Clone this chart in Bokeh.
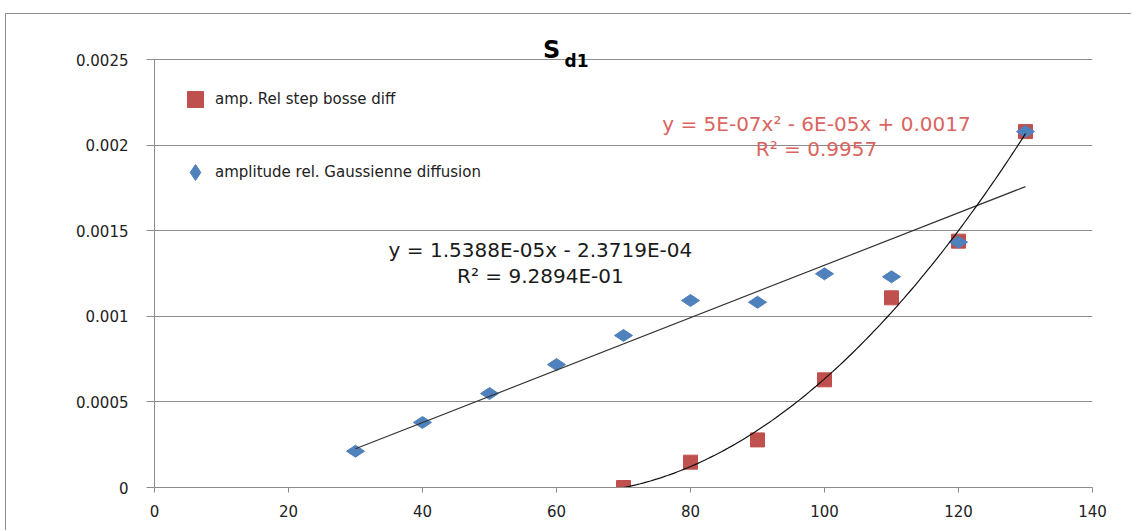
import numpy as np
from bokeh.plotting import figure
from bokeh.models import Label, Legend, LegendItem, FixedTicker
from bokeh.embed import file_html
from bokeh.resources import INLINE

# ---- data ----
x_blue = [30, 40, 50, 60, 70, 80, 90, 100, 110, 120, 130]
y_blue = [0.000212, 0.000380, 0.000549, 0.000718, 0.000888, 0.001092,
          0.001082, 0.001248, 0.001231, 0.001433, 0.002079]
x_red = [70, 80, 90, 100, 110, 120, 130]
y_red = [0.0, 0.000148, 0.000278, 0.000629, 0.001108, 0.001439, 0.002079]

name_red = "amp. Rel step bosse diff"
name_blue = "amplitude rel. Gaussienne diffusion"

x_ticks = [0, 20, 40, 60, 80, 100, 120, 140]
y_ticks = [0, 0.0005, 0.001, 0.0015, 0.002, 0.0025]
y_tick_labels = ["0", "0.0005", "0.001", "0.0015", "0.002", "0.0025"]

eq_red = ["y = 5E-07x\u00b2 - 6E-05x + 0.0017", "R\u00b2 = 0.9957"]
eq_blue = ["y = 1.5388E-05x - 2.3719E-04", "R\u00b2 = 9.2894E-01"]

RED = "#C0504D"
BLUE = "#4F81BD"
GRID = "#8c8c8c"
TXT = "#222222"
FONT = "DejaVu Sans"

# y range extends above the last tick to leave room for the title
p = figure(width=1126, height=517, x_range=(0, 140),
           y_range=(0, 0.0025 + 29 * 0.0025 / 428),
           output_backend="svg", toolbar_location=None, title=None,
           min_border_left=148, min_border_right=40, min_border_top=16,
           min_border_bottom=44)
p.margin = (13, 0, 0, 5)
p.styles = {"border-top": "1px solid #8c8c8c",
            "border-left": "1px solid #8c8c8c"}
p.outline_line_color = None
p.background_fill_color = "white"
p.border_fill_color = "white"

p.xgrid.visible = False
p.ygrid.grid_line_color = GRID
p.ygrid.grid_line_width = 1
p.ygrid.ticker = FixedTicker(ticks=y_ticks)

p.xaxis.ticker = FixedTicker(ticks=x_ticks)
p.yaxis.ticker = FixedTicker(ticks=y_ticks)
p.yaxis.bounds = (y_ticks[0], y_ticks[-1])
p.yaxis.major_label_overrides = {v: s for v, s in zip(y_ticks, y_tick_labels)}

for ax in (p.xaxis[0], p.yaxis[0]):
    ax.axis_line_color = GRID
    ax.major_tick_line_color = GRID
    ax.minor_tick_line_color = None
    ax.major_tick_in = 0
    ax.major_label_text_font = FONT
    ax.major_label_text_font_size = "15px"
    ax.major_label_text_color = TXT
p.yaxis.major_tick_out = 8
p.yaxis.major_label_standoff = 18
p.xaxis.major_tick_out = 5
p.xaxis.major_label_standoff = 12

# markers
r_red = p.scatter(x_red, y_red, marker="square", size=14, color=RED)
r_blue = p.scatter(x_blue, y_blue, marker="diamond", size=18, angle=np.pi / 2,
                   color=BLUE)

# trendlines
cb = np.polyfit(x_blue, y_blue, 1)
xl = np.linspace(min(x_blue), max(x_blue), 2)
p.line(xl, np.polyval(cb, xl), line_color="#333333", line_width=1.2)
cr = np.polyfit(x_red, y_red, 2)
xq = np.linspace(min(x_red), max(x_red), 120)
p.line(xq, np.polyval(cr, xq), line_color="#111111", line_width=1.2)

# legend
legend = Legend(items=[LegendItem(label=name_red, renderers=[r_red]),
                       LegendItem(label=name_blue, renderers=[r_blue])],
                location=(21, 295), margin=0, padding=20, spacing=33,
                glyph_width=40, glyph_height=40, label_standoff=-8,
                label_text_font=FONT, label_text_font_size="15px",
                label_text_color=TXT, background_fill_alpha=0,
                border_line_color=None)
p.add_layout(legend)

# equations
def eq_label(x, y, text, color):
    p.add_layout(Label(x=x, y=y, text=text, text_align="center",
                       text_baseline="middle", text_font=FONT,
                       text_font_size="20px", text_color=color))

eq_label(98.8, 0.002126, eq_red[0], "#DA6560")
eq_label(98.8, 0.00198, eq_red[1], "#DA6560")
eq_label(57.6, 0.00139, eq_blue[0], "#1a1a1a")
eq_label(57.6, 0.001238, eq_blue[1], "#1a1a1a")

# title S_d1
p.add_layout(Label(x=58.0, y=0.002558, text="S", text_align="left",
                   text_baseline="alphabetic", text_font=FONT,
                   text_font_size="24px", text_font_style="bold",
                   text_color="#000000"))
p.add_layout(Label(x=61.2, y=0.002494, text="d1", text_align="left",
                   text_baseline="alphabetic", text_font=FONT,
                   text_font_size="17px", text_font_style="bold",
                   text_color="#000000"))

open("out.html", "w").write(file_html(p, INLINE))
